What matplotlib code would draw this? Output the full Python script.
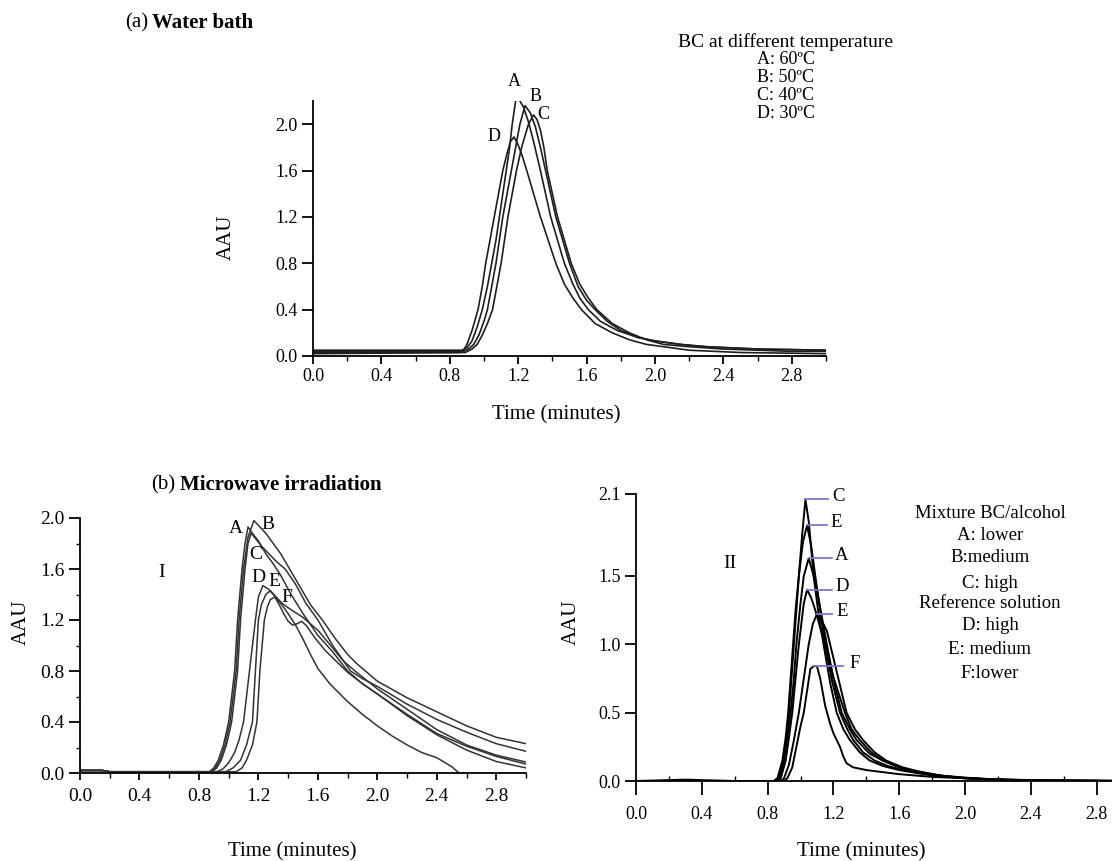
import matplotlib
matplotlib.use("Agg")
import matplotlib.pyplot as plt
from matplotlib.ticker import MultipleLocator, FixedLocator, FormatStrFormatter

plt.rcParams['font.family'] = ['Liberation Serif', 'DejaVu Serif']

# ---- (a) water bath, BC at different temperature ----
wb_A_t = [0, 0.87, 0.90, 0.93, 0.96, 0.99, 1.02, 1.045, 1.07, 1.09, 1.11, 1.13, 1.15, 1.165, 1.19, 1.21, 1.23, 1.26,
          1.29, 1.33, 1.36, 1.39, 1.43, 1.47, 1.52, 1.56, 1.61, 1.68, 1.78, 1.9, 2.0, 2.15, 2.3, 2.6, 3.0]
wb_A_y = [0.05, 0.05, 0.07, 0.13, 0.25, 0.40, 0.60, 0.80, 1.00, 1.20, 1.40, 1.60, 1.80, 2.00, 2.25, 2.20, 2.15, 2.02,
          1.85, 1.60, 1.40, 1.20, 1.00, 0.80, 0.62, 0.50, 0.40, 0.30, 0.22, 0.16, 0.13, 0.10, 0.08, 0.06, 0.05]
wb_B_t = [0, 0.88, 0.91, 0.94, 0.97, 1.00, 1.02, 1.045, 1.07, 1.09, 1.11, 1.135, 1.16, 1.185, 1.21, 1.24, 1.27, 1.30,
          1.33, 1.36, 1.39, 1.42, 1.46, 1.50, 1.55, 1.60, 1.65, 1.72, 1.80, 1.9, 2.0, 2.15, 2.3, 2.6, 3.0]
wb_B_y = [0.04, 0.04, 0.06, 0.10, 0.18, 0.30, 0.40, 0.60, 0.80, 1.00, 1.20, 1.40, 1.60, 1.80, 2.00, 2.16, 2.10, 1.98,
          1.80, 1.60, 1.40, 1.20, 1.00, 0.80, 0.60, 0.48, 0.40, 0.30, 0.22, 0.16, 0.13, 0.10, 0.08, 0.06, 0.05]
wb_C_t = [0, 0.89, 0.93, 0.96, 0.99, 1.02, 1.05, 1.075, 1.10, 1.12, 1.14, 1.165, 1.19, 1.22, 1.26, 1.29, 1.31, 1.33,
          1.35, 1.37, 1.40, 1.43, 1.47, 1.51, 1.56, 1.61, 1.66, 1.75, 1.85, 1.95, 2.05, 2.2, 2.4, 2.8, 3.0]
wb_C_y = [0.03, 0.03, 0.06, 0.10, 0.18, 0.28, 0.40, 0.60, 0.80, 1.00, 1.20, 1.40, 1.60, 1.80, 2.00, 2.08, 2.04, 1.95,
          1.80, 1.60, 1.40, 1.20, 1.00, 0.80, 0.62, 0.50, 0.40, 0.28, 0.20, 0.14, 0.10, 0.08, 0.06, 0.04, 0.04]
wb_D_t = [0, 0.86, 0.88, 0.90, 0.93, 0.965, 0.99, 1.01, 1.035, 1.06, 1.085, 1.11, 1.135, 1.155, 1.175, 1.20, 1.225,
          1.25, 1.29, 1.33, 1.375, 1.42, 1.47, 1.52, 1.57, 1.65, 1.75, 1.85, 1.95, 2.1, 2.2, 2.5, 3.0]
wb_D_y = [0.02, 0.03, 0.05, 0.10, 0.22, 0.40, 0.60, 0.80, 1.00, 1.20, 1.40, 1.60, 1.75, 1.85, 1.89, 1.82, 1.72,
          1.60, 1.40, 1.20, 1.00, 0.80, 0.62, 0.50, 0.40, 0.28, 0.20, 0.14, 0.10, 0.07, 0.05, 0.03, 0.02]
wb_names = ["A", "B", "C", "D"]
wb_label_xy = [(1.175, 2.37), (1.30, 2.24), (1.345, 2.08), (1.06, 1.89)]
wb_legend = ["BC at different temperature", "A: 60ºC", "B: 50ºC", "C: 40ºC", "D: 30ºC"]

# ---- (b) I microwave irradiation ----
mw_A_t = [0, 0.15, 0.2, 0.87, 0.90, 0.93, 0.965, 1.00, 1.02, 1.04, 1.06, 1.075, 1.09, 1.11, 1.13, 1.16, 1.20, 1.25,
          1.30, 1.35, 1.42, 1.50, 1.60, 1.70, 1.80, 1.90, 2.0, 2.2, 2.4, 2.6, 2.8, 3.0]
mw_A_y = [0.02, 0.02, 0.01, 0.01, 0.04, 0.10, 0.22, 0.40, 0.60, 0.80, 1.20, 1.40, 1.60, 1.80, 1.93, 1.88, 1.82, 1.72,
          1.64, 1.55, 1.40, 1.25, 1.08, 0.95, 0.80, 0.70, 0.62, 0.46, 0.31, 0.21, 0.13, 0.07]
mw_B_t = [0, 0.15, 0.2, 0.88, 0.91, 0.94, 0.975, 1.01, 1.03, 1.05, 1.07, 1.085, 1.10, 1.13, 1.17, 1.21, 1.25, 1.30,
          1.35, 1.40, 1.47, 1.55, 1.63, 1.72, 1.80, 1.86, 1.93, 2.0, 2.2, 2.4, 2.6, 2.8, 3.0]
mw_B_y = [0.02, 0.02, 0.01, 0.01, 0.04, 0.10, 0.22, 0.40, 0.60, 0.80, 1.20, 1.40, 1.60, 1.85, 1.98, 1.93, 1.88, 1.80,
          1.72, 1.62, 1.48, 1.32, 1.20, 1.05, 0.93, 0.86, 0.79, 0.72, 0.59, 0.48, 0.37, 0.28, 0.23]
mw_C_t = [0, 0.15, 0.2, 0.89, 0.92, 0.95, 0.985, 1.02, 1.04, 1.06, 1.08, 1.095, 1.11, 1.13, 1.15, 1.18, 1.22, 1.27,
          1.32, 1.38, 1.45, 1.52, 1.60, 1.70, 1.82, 1.90, 2.0, 2.2, 2.4, 2.6, 2.8, 3.0]
mw_C_y = [0.02, 0.02, 0.01, 0.01, 0.04, 0.10, 0.22, 0.40, 0.60, 0.80, 1.20, 1.40, 1.60, 1.80, 1.88, 1.84, 1.78, 1.72,
          1.66, 1.60, 1.48, 1.33, 1.20, 1.00, 0.80, 0.74, 0.68, 0.54, 0.42, 0.32, 0.23, 0.17]
mw_D_t = [0, 0.15, 0.2, 0.92, 0.96, 1.00, 1.04, 1.07, 1.10, 1.12, 1.14, 1.16, 1.18, 1.20, 1.23, 1.27, 1.30, 1.35,
          1.40, 1.45, 1.50, 1.55, 1.60, 1.68, 1.80, 1.90, 2.0, 2.1, 2.2, 2.3, 2.4, 2.5, 2.55]
mw_D_y = [0.02, 0.02, 0.01, 0.01, 0.03, 0.08, 0.16, 0.26, 0.40, 0.60, 0.80, 1.00, 1.20, 1.38, 1.47, 1.44, 1.40, 1.33,
          1.25, 1.16, 1.05, 0.93, 0.82, 0.70, 0.56, 0.46, 0.37, 0.29, 0.22, 0.16, 0.12, 0.05, 0.0]
mw_E_t = [0, 0.15, 0.2, 0.98, 1.03, 1.08, 1.12, 1.16, 1.17, 1.18, 1.19, 1.20, 1.22, 1.25, 1.28, 1.32, 1.36, 1.42,
          1.50, 1.60, 1.70, 1.77, 1.85, 2.0, 2.2, 2.4, 2.6, 2.8, 3.0]
mw_E_y = [0.02, 0.02, 0.01, 0.01, 0.04, 0.10, 0.22, 0.40, 0.60, 0.80, 1.00, 1.20, 1.32, 1.40, 1.43, 1.38, 1.33, 1.28,
          1.22, 1.12, 0.98, 0.88, 0.80, 0.66, 0.50, 0.34, 0.22, 0.14, 0.086]
mw_F_t = [0, 0.15, 0.2, 1.05, 1.09, 1.12, 1.16, 1.19, 1.20, 1.21, 1.225, 1.24, 1.26, 1.28, 1.31, 1.34, 1.37, 1.40,
          1.43, 1.46, 1.49, 1.52, 1.58, 1.65, 1.72, 1.80, 1.90, 2.0, 2.2, 2.4, 2.6, 2.8, 3.0]
mw_F_y = [0.02, 0.02, 0.01, 0.01, 0.04, 0.10, 0.22, 0.40, 0.60, 0.80, 1.00, 1.20, 1.30, 1.36, 1.38, 1.32, 1.25, 1.19,
          1.16, 1.17, 1.19, 1.16, 1.06, 0.96, 0.88, 0.79, 0.70, 0.62, 0.45, 0.30, 0.18, 0.09, 0.04]
mw_names = ["A", "B", "C", "D", "E", "F"]
mw_label_xy = [(1.05, 1.92), (1.265, 1.95), (1.18, 1.71), (1.20, 1.53), (1.31, 1.50), (1.39, 1.38)]

# ---- (b) II mixture BC/alcohol vs reference solution ----
mx_C_t = [0, 0.3, 0.6, 0.84, 0.87, 0.89, 0.91, 0.93, 0.945, 0.96, 0.975, 0.99, 1.01, 1.03, 1.05, 1.08, 1.11, 1.14,
          1.18, 1.22, 1.26, 1.30, 1.36, 1.42, 1.50, 1.60, 1.70, 1.80, 1.95, 2.10, 2.4, 3.0]
mx_C_y = [0.0, 0.01, 0.0, 0.0, 0.03, 0.10, 0.28, 0.50, 0.75, 1.00, 1.25, 1.50, 1.80, 2.06, 1.90, 1.50, 1.22, 1.00,
          0.72, 0.50, 0.38, 0.30, 0.21, 0.15, 0.11, 0.08, 0.06, 0.04, 0.025, 0.015, 0.005, 0.0]
mx_E1_t = [0, 0.84, 0.86, 0.89, 0.91, 0.925, 0.94, 0.955, 0.97, 0.99, 1.015, 1.04, 1.065, 1.09, 1.12, 1.15, 1.19,
           1.24, 1.28, 1.32, 1.38, 1.45, 1.53, 1.62, 1.72, 1.85, 2.0, 2.2, 3.0]
mx_E1_y = [0.0, 0.0, 0.02, 0.15, 0.32, 0.50, 0.75, 1.00, 1.25, 1.50, 1.75, 1.87, 1.72, 1.50, 1.24, 1.00, 0.74,
           0.50, 0.39, 0.30, 0.21, 0.15, 0.11, 0.08, 0.06, 0.04, 0.025, 0.01, 0.0]
mx_A_t = [0, 0.85, 0.87, 0.90, 0.92, 0.94, 0.96, 0.975, 1.00, 1.02, 1.05, 1.08, 1.10, 1.13, 1.16, 1.20, 1.25, 1.30,
          1.34, 1.42, 1.50, 1.58, 1.65, 1.78, 1.90, 2.1, 2.3, 3.0]
mx_A_y = [0.0, 0.0, 0.02, 0.15, 0.32, 0.50, 0.75, 1.00, 1.30, 1.50, 1.63, 1.50, 1.40, 1.20, 1.00, 0.75, 0.50, 0.38,
          0.30, 0.20, 0.15, 0.11, 0.08, 0.05, 0.03, 0.015, 0.005, 0.0]
mx_D_t = [0, 0.86, 0.88, 0.91, 0.93, 0.95, 0.97, 0.99, 1.02, 1.04, 1.065, 1.09, 1.12, 1.15, 1.20, 1.27, 1.31, 1.36,
          1.43, 1.50, 1.60, 1.70, 1.85, 2.0, 2.4, 3.0]
mx_D_y = [0.0, 0.0, 0.02, 0.15, 0.32, 0.50, 0.75, 1.00, 1.30, 1.40, 1.34, 1.25, 1.12, 1.00, 0.76, 0.50, 0.38, 0.30,
          0.21, 0.15, 0.10, 0.07, 0.04, 0.02, 0.0, 0.0]
mx_E2_t = [0, 0.88, 0.90, 0.93, 0.96, 0.99, 1.02, 1.05, 1.075, 1.10, 1.13, 1.16, 1.19, 1.22, 1.28, 1.33, 1.38, 1.45,
           1.52, 1.62, 1.72, 1.85, 2.0, 2.4, 3.0]
mx_E2_y = [0.0, 0.0, 0.02, 0.12, 0.30, 0.50, 0.75, 1.00, 1.15, 1.22, 1.17, 1.10, 0.95, 0.80, 0.50, 0.38, 0.30, 0.21,
           0.15, 0.10, 0.07, 0.04, 0.02, 0.0, 0.0]
mx_F_t = [0, 0.90, 0.92, 0.95, 0.975, 1.00, 1.02, 1.045, 1.06, 1.08, 1.10, 1.12, 1.15, 1.18, 1.20, 1.22, 1.24, 1.26,
          1.28, 1.32, 1.40, 1.50, 1.60, 1.80, 2.0, 2.4, 3.0]
mx_F_y = [0.0, 0.0, 0.02, 0.10, 0.25, 0.40, 0.50, 0.70, 0.82, 0.84, 0.84, 0.75, 0.55, 0.42, 0.35, 0.30, 0.25, 0.18,
          0.13, 0.10, 0.08, 0.065, 0.05, 0.03, 0.02, 0.005, 0.0]
mx_names = ["C", "E", "A", "D", "E", "F"]
mx_line_end = [1.17, 1.16, 1.19, 1.19, 1.19, 1.26]
mx_label_x = [1.19, 1.18, 1.21, 1.21, 1.22, 1.30]
mx_legend = ["Mixture BC/alcohol", "A: lower", "B:medium", "C: high", "Reference solution",
             "D: high", "E: medium", "F:lower"]
mx_legend_y = [513, 535, 557, 583, 603, 626, 649, 673]


def fx(p):
    return p / 1112.0


def fy(p):
    return 1 - p / 861.0


def style_axes(ax, tick_fs, ymajor, yminor=None, xlen=6, xpad=4, xmin_dir="out"):
    ax.spines["top"].set_visible(False)
    ax.spines["right"].set_visible(False)
    ax.spines["left"].set_linewidth(1.3)
    ax.spines["bottom"].set_linewidth(1.3)
    ax.xaxis.set_major_locator(MultipleLocator(0.4))
    ax.xaxis.set_minor_locator(MultipleLocator(0.2))
    ax.xaxis.set_major_formatter(FormatStrFormatter("%.1f"))
    ax.yaxis.set_major_formatter(FormatStrFormatter("%.1f"))
    if ymajor is not None:
        ax.yaxis.set_major_locator(MultipleLocator(ymajor))
    if yminor is not None:
        ax.yaxis.set_minor_locator(MultipleLocator(yminor))
    ax.tick_params(axis="x", which="major", direction="out", length=xlen, width=1.3, pad=xpad, labelsize=tick_fs)
    ax.tick_params(axis="x", which="minor", direction=xmin_dir, length=3.5, width=1.0)
    ax.tick_params(axis="y", which="major", direction="out", length=8, width=1.3, pad=3, labelsize=tick_fs)
    ax.tick_params(axis="y", which="minor", direction="out", length=3, width=1.0)


fig = plt.figure(figsize=(11.12, 8.61), dpi=100)

# ---------------- panel (a) ----------------
ax_a = fig.add_axes([fx(313), fy(356), fx(513), 255 / 861.0])
wb_series = [(wb_A_t, wb_A_y), (wb_B_t, wb_B_y), (wb_C_t, wb_C_y), (wb_D_t, wb_D_y)]
for t, y in wb_series:
    ax_a.plot(t, y, color="#1e1e1e", lw=1.2)
for name, (lx, ly) in zip(wb_names, wb_label_xy):
    ax_a.text(lx, ly, name, fontsize=13, ha="center", va="center")
ax_a.set_xlim(0, 3.0)
ax_a.set_ylim(0, 2.2)
style_axes(ax_a, 13, 0.4, xlen=6, xpad=3)

fig.text(fx(125), fy(23), "(a)", fontsize=15, ha="left", va="center")
fig.text(fx(152), fy(23), "Water bath", fontsize=15, fontweight="bold", ha="left", va="center")
fig.text(fx(226), fy(237), "AAU", fontsize=15, rotation=90, ha="center", va="center")
fig.text(fx(556), fy(415), "Time (minutes)", fontsize=15, ha="center", va="center")
fig.text(fx(785), fy(42), wb_legend[0], fontsize=14, ha="center", va="center")
for i, line in enumerate(wb_legend[1:]):
    fig.text(fx(757), fy(59 + 18 * i), line, fontsize=13, ha="left", va="center")

# ---------------- panel (b) I ----------------
ax_b1 = fig.add_axes([fx(80), fy(773), fx(446), 255 / 861.0])
mw_series = [(mw_A_t, mw_A_y), (mw_B_t, mw_B_y), (mw_C_t, mw_C_y),
             (mw_D_t, mw_D_y), (mw_E_t, mw_E_y), (mw_F_t, mw_F_y)]
for t, y in mw_series:
    ax_b1.plot(t, y, color="#333333", lw=1.1)
for name, (lx, ly) in zip(mw_names, mw_label_xy):
    ax_b1.text(lx, ly, name, fontsize=14, ha="center", va="center")
ax_b1.text(0.55, 1.57, "I", fontsize=14, ha="center", va="center")
ax_b1.set_xlim(0, 3.0)
ax_b1.set_ylim(0, 2.0)
style_axes(ax_b1, 14, 0.4, yminor=0.2, xlen=5, xpad=6)

fig.text(fx(151), fy(485), "(b)", fontsize=15, ha="left", va="center")
fig.text(fx(180), fy(485), "Microwave irradiation", fontsize=15, fontweight="bold", ha="left", va="center")
fig.text(fx(21), fy(622), "AAU", fontsize=15, rotation=90, ha="center", va="center")
fig.text(fx(292), fy(852), "Time (minutes)", fontsize=15, ha="center", va="center")

# ---------------- panel (b) II ----------------
ax_b2 = fig.add_axes([fx(636), fy(781), fx(3.0 * 164.5), 287 / 861.0])
mx_series = [(mx_C_t, mx_C_y), (mx_E1_t, mx_E1_y), (mx_A_t, mx_A_y),
             (mx_D_t, mx_D_y), (mx_E2_t, mx_E2_y), (mx_F_t, mx_F_y)]
for t, y in mx_series:
    ax_b2.plot(t, y, color="black", lw=1.4)
for (t, y), name, x_end, lx in zip(mx_series, mx_names, mx_line_end, mx_label_x):
    k = y.index(max(y))
    ax_b2.plot([t[k], x_end], [y[k], y[k]], color="#7878c8", lw=1.3)
    ax_b2.text(lx, y[k] + 0.02, name, fontsize=13.5, ha="left", va="center")
ax_b2.text(0.57, 1.59, "II", fontsize=14, ha="center", va="center")
ax_b2.set_xlim(0, 3.0)
ax_b2.set_ylim(0, 2.1)
style_axes(ax_b2, 13, None, xlen=10, xpad=8, xmin_dir="in")
ax_b2.yaxis.set_major_locator(FixedLocator([0.0, 0.5, 1.0, 1.5, 2.1]))

fig.text(fx(571), fy(622), "AAU", fontsize=15, rotation=90, ha="center", va="center")
fig.text(fx(861), fy(852), "Time (minutes)", fontsize=15, ha="center", va="center")
for line, ly in zip(mx_legend, mx_legend_y):
    fig.text(fx(990), fy(ly), line, fontsize=13.5, ha="center", va="center")

fig.savefig("out.png", dpi=100)
